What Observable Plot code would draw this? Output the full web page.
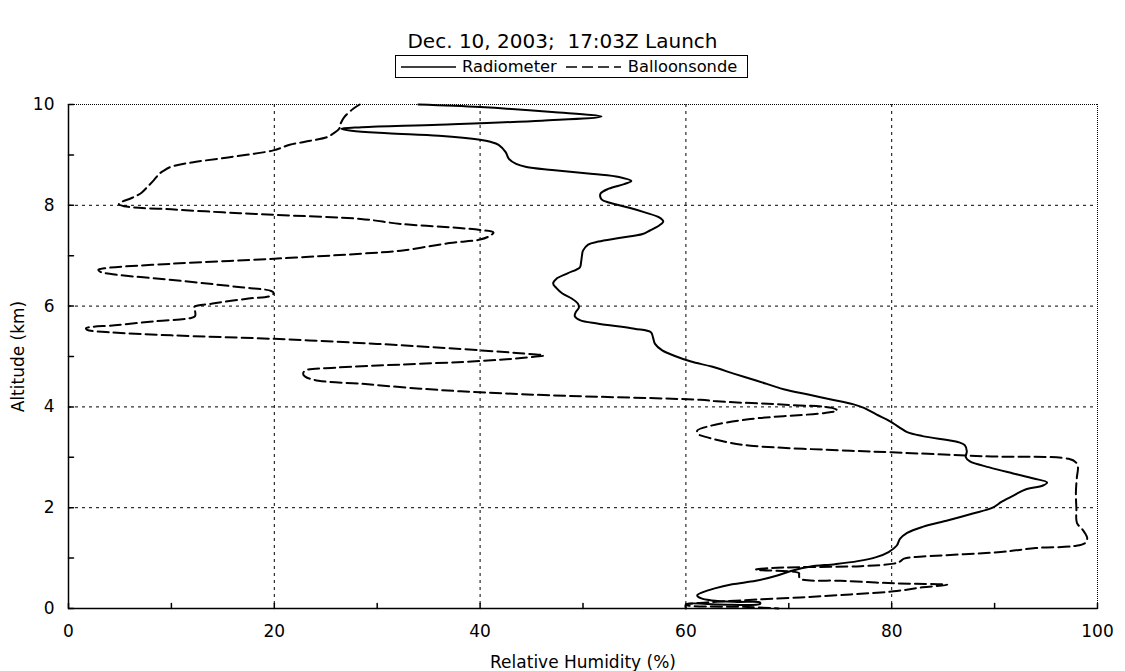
<!DOCTYPE html>
<html>
<head>
<meta charset="utf-8">
<script src="https://cdn.jsdelivr.net/npm/d3@7"></script>
<script src="https://cdn.jsdelivr.net/npm/@observablehq/plot@0.6"></script>
<style>
  html, body { margin: 0; padding: 0; background: #fff; }
  body { width: 1125px; height: 671px; position: relative; overflow: hidden; font-family: "DejaVu Sans", Verdana, sans-serif; color: #000; }
  #title { position: absolute; top: 30px; left: 0; width: 1125px; text-align: center; font-size: 20px; white-space: pre; line-height: 22px; }
  #legend { position: absolute; left: 395px; top: 55px; width: 351px; height: 21px; border: 1px solid #000; font-size: 16.3px; display: flex; align-items: center; white-space: pre; }
  #legend svg { display: block; }
  #chart { position: absolute; left: 0; top: 90px; }
</style>
</head>
<body>
<div id="title"></div>
<div id="legend"></div>
<div id="chart"></div>
<script>
const titleText = "Dec. 10, 2003;  17:03Z Launch";
const seriesNames = ["Radiometer", "Balloonsonde"];
const xLabel = "Relative Humidity (%)";
const yLabel = "Altitude (km)";
const xMajorTicks = [0, 20, 40, 60, 80, 100];
const xMinorTicks = [10, 30, 50, 70, 90];
const yMajorTicks = [0, 2, 4, 6, 8, 10];
const yMinorTicks = [1, 3, 5, 7, 9];
const xGrid = [20, 40, 60, 80];
const yGrid = [2, 4, 6, 8];
const xEdge = [100];
const yEdge = [10];

// Radiometer profile: [altitude km, RH %]
const radiometer = [
  [10.0, 34], [9.95, 40], [9.85, 47], [9.76, 51.8], [9.68, 46], [9.6, 36], [9.55, 28.5], [9.52, 26.5],
  [9.48, 27.5], [9.43, 31], [9.38, 36], [9.3, 40], [9.26, 41], [9.2, 41.8], [9.05, 42.5], [8.92, 42.8],
  [8.82, 43.5], [8.76, 44.5], [8.7, 47], [8.62, 51], [8.56, 53.5], [8.48, 54.7], [8.42, 54], [8.33, 52.5],
  [8.23, 51.7], [8.12, 51.8], [8.05, 52.6], [7.95, 54.5], [7.86, 56], [7.76, 57.4], [7.68, 57.8], [7.6, 57.4],
  [7.5, 56.5], [7.43, 55.8], [7.35, 53.5], [7.28, 51.5], [7.22, 50.5], [7.1, 50], [7.0, 49.9], [6.85, 49.8],
  [6.77, 49.7], [6.65, 48.5], [6.54, 47.4], [6.45, 47.1], [6.36, 47.4], [6.25, 48], [6.15, 48.9], [6.05, 49.5],
  [5.97, 49.6], [5.88, 49.3], [5.8, 49.2], [5.72, 49.7], [5.65, 51.5], [5.55, 55], [5.48, 56.6], [5.38, 56.8],
  [5.25, 57], [5.12, 57.7], [5.02, 58.8], [4.9, 60.5], [4.8, 62.5], [4.65, 64.8], [4.52, 66.9], [4.35, 69.5],
  [4.24, 72], [4.15, 74], [4.05, 76.3], [3.98, 77.3], [3.85, 78.5], [3.72, 79.8], [3.6, 80.7], [3.5, 81.5],
  [3.42, 83], [3.3, 86.5], [3.24, 87.1], [3.12, 87.3], [3.0, 87.2], [2.92, 87.6], [2.8, 89.5], [2.68, 91.8],
  [2.58, 93.8], [2.5, 95.1], [2.44, 94.7], [2.36, 93], [2.26, 92], [2.12, 90.7], [2.0, 89.8], [1.88, 87.8],
  [1.75, 85.5], [1.62, 83], [1.5, 81.5], [1.38, 80.8], [1.25, 80.5], [1.12, 79.7], [1.02, 78.5], [0.94, 76.7],
  [0.88, 74.5], [0.83, 72], [0.75, 70.3], [0.65, 68.8], [0.55, 66.8], [0.48, 64.5], [0.4, 62.8], [0.32, 61.6],
  [0.26, 61.1], [0.2, 61.5], [0.16, 62.5], [0.13, 65], [0.12, 67.2], [0.09, 67.2], [0.08, 63], [0.08, 60], [0.0, 60]
];

// Balloonsonde profile: [altitude km, RH %]
const balloonsonde = [
  [10.0, 28.3], [9.92, 27.7], [9.75, 26.8], [9.6, 26.4], [9.52, 26.3], [9.42, 25.7], [9.35, 25.1], [9.28, 23.5],
  [9.2, 21.5], [9.09, 19.9], [8.95, 15.5], [8.85, 12], [8.76, 9.9], [8.68, 9.2], [8.62, 8.8], [8.5, 8.3],
  [8.35, 7.6], [8.25, 7.1], [8.15, 6.2], [8.05, 5.0], [8.02, 4.9], [7.97, 5.8], [7.92, 10], [7.86, 15],
  [7.81, 20], [7.73, 28.4], [7.63, 32.3], [7.55, 38], [7.51, 40], [7.46, 41.3], [7.4, 41], [7.32, 40],
  [7.25, 37], [7.1, 32.3], [7.04, 28.4], [6.94, 20], [6.84, 10], [6.75, 3.5], [6.72, 2.9], [6.68, 3.1],
  [6.64, 4.0], [6.5, 11], [6.38, 16.5], [6.3, 19.7], [6.26, 19.95], [6.2, 19.6], [6.15, 17.5], [6.05, 14],
  [5.98, 12.2], [5.9, 12.3], [5.8, 12.3], [5.76, 11.8], [5.7, 8.5], [5.62, 4.5], [5.56, 1.7], [5.53, 1.8],
  [5.48, 4], [5.42, 10], [5.35, 20], [5.25, 30], [5.15, 38.1], [5.07, 43.5], [5.02, 46.2], [4.97, 44],
  [4.91, 40], [4.84, 32.3], [4.78, 26], [4.72, 23], [4.66, 22.8], [4.6, 23], [4.52, 24.3], [4.46, 28.4],
  [4.38, 33], [4.31, 38.1], [4.23, 46.8], [4.14, 61.4], [4.11, 63], [4.04, 70], [3.98, 74.2], [3.93, 74.7],
  [3.88, 73.5], [3.76, 66.3], [3.62, 62.3], [3.53, 61.1], [3.46, 61.2], [3.4, 62], [3.3, 64], [3.23, 66.3],
  [3.13, 76], [3.1, 80], [3.02, 89], [2.97, 97.2], [2.9, 97.9], [2.8, 98.1], [2.61, 98.0], [2.3, 97.9],
  [1.98, 97.95], [1.7, 98.0], [1.55, 98.6], [1.4, 99.0], [1.3, 98.8], [1.24, 97.8], [1.2, 94], [1.12, 90.6],
  [1.03, 83], [0.99, 81.2], [0.93, 80.8], [0.89, 80.2], [0.84, 77], [0.82, 71.1], [0.80, 68], [0.77, 66.8],
  [0.73, 70.5], [0.70, 71.0], [0.66, 71.0], [0.59, 71.1], [0.55, 75], [0.5, 80.2], [0.47, 85.4], [0.42, 83],
  [0.34, 80.2], [0.28, 76], [0.22, 71.1], [0.16, 65.3], [0.12, 62], [0.08, 60], [0.06, 60.2], [0.03, 66], [0.0, 69]
];

const dashPattern = "11,5";
const gridDash = "3,4";
const edgeDash = "1,1";

document.getElementById("title").textContent = titleText;

// Legend
const legend = document.getElementById("legend");
function sample(dash) {
  const s = d3.create("svg").attr("width", 55).attr("height", 10);
  s.append("line").attr("x1", 0).attr("x2", 55).attr("y1", 5).attr("y2", 5)
    .attr("stroke", "#000").attr("stroke-width", 1.3).attr("stroke-dasharray", dash);
  return s.node();
}
const l1 = document.createElement("span"); l1.style.marginLeft = "5px"; l1.appendChild(sample(null));
const t1 = document.createElement("span"); t1.textContent = seriesNames[0]; t1.style.marginLeft = "6px";
const l2 = document.createElement("span"); l2.style.marginLeft = "9px"; l2.appendChild(sample(dashPattern));
const t2 = document.createElement("span"); t2.textContent = seriesNames[1]; t2.style.marginLeft = "7px";
[l1, t1, l2, t2].forEach(e => legend.appendChild(e));

const tickShape = { draw(context, l) { context.moveTo(0, 0); context.lineTo(0, -l); } };

const chart = Plot.plot({
  width: 1125,
  height: 581,
  marginLeft: 68,
  marginRight: 28,
  marginTop: 14,
  marginBottom: 63,
  style: { fontFamily: "'DejaVu Sans', Verdana, sans-serif", fontSize: "17px", color: "#000", background: "#fff" },
  x: { domain: [0, 100] },
  y: { domain: [0, 10] },
  marks: [
    Plot.ruleX(xGrid, { stroke: "#000", strokeWidth: 1, strokeDasharray: gridDash }),
    Plot.ruleY(yGrid, { stroke: "#000", strokeWidth: 1, strokeDasharray: gridDash }),
    Plot.ruleX(xEdge, { stroke: "#000", strokeWidth: 1, strokeDasharray: edgeDash }),
    Plot.ruleY(yEdge, { stroke: "#000", strokeWidth: 1, strokeDasharray: edgeDash }),
    Plot.vector(xMajorTicks.concat(xMinorTicks), { x: d => d, frameAnchor: "bottom", rotate: 0, length: 5, anchor: "start", shape: tickShape, stroke: "#000" }),
    Plot.vector(yMajorTicks.concat(yMinorTicks), { y: d => d, frameAnchor: "left", rotate: 90, length: 5, anchor: "start", shape: tickShape, stroke: "#000" }),
    Plot.line(radiometer, { x: d => d[1], y: d => d[0], curve: "catmull-rom", stroke: "#000", strokeWidth: 2 }),
    Plot.line(balloonsonde, { x: d => d[1], y: d => d[0], curve: "catmull-rom", stroke: "#000", strokeWidth: 2, strokeDasharray: dashPattern }),
    Plot.ruleX([0], { stroke: "#000", strokeWidth: 1.5 }),
    Plot.ruleY([0], { stroke: "#000", strokeWidth: 1.5 }),
    Plot.axisX({ ticks: xMajorTicks, tickSize: 0, tickPadding: 16, label: xLabel, labelAnchor: "center", labelArrow: "none", labelOffset: 59 }),
    Plot.axisY({ ticks: yMajorTicks, tickSize: 0, tickPadding: 14, label: yLabel, labelAnchor: "center", labelArrow: "none", labelOffset: 57 })
  ]
});
document.getElementById("chart").appendChild(chart);
</script>
</body>
</html>
